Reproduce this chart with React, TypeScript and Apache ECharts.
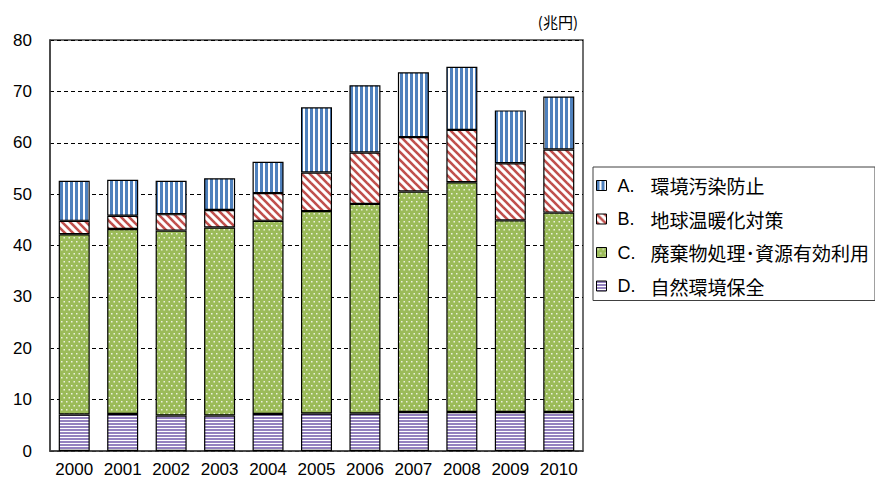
import React, { useEffect, useRef } from 'react';
import * as echarts from 'echarts';

// Fiscal years on the category axis
const years = ['2000', '2001', '2002', '2003', '2004', '2005', '2006', '2007', '2008', '2009', '2010'];

// Legend codes and sector names (A–D)
const codes = ['A.', 'B.', 'C.', 'D.'];
const sectorNames = ['環境汚染防止', '地球温暖化対策', '廃棄物処理･資源有効利用', '自然環境保全'];

// Market size per sector, trillion yen
const pollutionPrevention = [7.8, 7.0, 6.5, 6.2, 6.1, 12.7, 13.1, 12.6, 12.3, 10.3, 10.3];
const climateMeasures = [2.6, 2.6, 3.2, 3.4, 5.4, 7.5, 10.0, 10.6, 10.2, 11.1, 12.3];
const wasteAndRecycling = [35.1, 36.0, 36.0, 36.6, 37.6, 39.4, 40.8, 42.9, 44.7, 37.3, 38.8];
const natureConservation = [7.1, 7.2, 6.9, 6.9, 7.2, 7.3, 7.3, 7.6, 7.6, 7.6, 7.6];

// Value axis
const yMin = 0;
const yMax = 80;
const yStep = 10;
const unitLabel = '(兆円)';

type Draw = (ctx: CanvasRenderingContext2D, w: number, h: number) => void;

function makeTile(w: number, h: number, draw: Draw) {
  const c = document.createElement('canvas');
  c.width = w;
  c.height = h;
  const ctx = c.getContext('2d')!;
  draw(ctx, w, h);
  return { image: c, repeat: 'repeat' as const };
}

function buildPatterns() {
  // blue vertical stripes
  const blue = makeTile(5, 5, (ctx, w, h) => {
    ctx.fillStyle = '#ffffff';
    ctx.fillRect(0, 0, w, h);
    ctx.fillStyle = '#4f81bd';
    ctx.fillRect(0, 0, 3, h);
  });
  // red diagonal stripes "\"
  const red = makeTile(8, 8, (ctx, w, h) => {
    ctx.fillStyle = '#ffffff';
    ctx.fillRect(0, 0, w, h);
    ctx.strokeStyle = '#c0504d';
    ctx.lineWidth = 2.6;
    for (let k = -2; k <= 2; k++) {
      ctx.beginPath();
      ctx.moveTo(-8, -8 + k * 8);
      ctx.lineTo(16, 16 + k * 8);
      ctx.stroke();
    }
  });
  // green with staggered white dots
  const green = makeTile(5, 8, (ctx, w, h) => {
    ctx.fillStyle = '#9bbb59';
    ctx.fillRect(0, 0, w, h);
    ctx.fillStyle = 'rgba(255,255,255,0.8)';
    ctx.fillRect(1, 1, 1.5, 1.5);
    ctx.fillRect(3.5, 5, 1.5, 1.5);
  });
  // lavender horizontal lines
  const purple = makeTile(4, 3, (ctx, w, h) => {
    ctx.fillStyle = '#ffffff';
    ctx.fillRect(0, 0, w, h);
    ctx.fillStyle = '#9482bf';
    ctx.fillRect(0, 0, w, 2);
  });
  return { blue, red, green, purple };
}

export default function App() {
  const ref = useRef<HTMLDivElement>(null);

  useEffect(() => {
    if (!ref.current) return;
    const chart = echarts.init(ref.current, undefined, { renderer: 'svg' });
    const p = buildPatterns();
    const names = codes.map((c, i) => `${c} ${sectorNames[i]}`);

    const barBase = {
      type: 'bar' as const,
      stack: 'total',
      barWidth: '64%',
    };
    const border = { borderColor: '#000000', borderWidth: 1.2 };

    chart.setOption({
      animation: false,
      grid: {
        left: 50,
        right: 292,
        top: 40,
        bottom: 29,
        show: true,
        borderColor: '#404040',
        borderWidth: 1.5,
      },
      graphic: [
        {
          type: 'text',
          x: 578,
          y: 21,
          style: {
            text: unitLabel,
            fontFamily: 'Noto Sans CJK JP',
            fontSize: 15,
            fill: '#000',
            align: 'right',
            verticalAlign: 'middle',
          },
        },
      ],
      legend: {
        orient: 'vertical',
        left: 593,
        top: 167,
        padding: [9, 6, 5, 3],
        itemGap: 14.5,
        itemWidth: 10,
        itemHeight: 10,
        icon: 'rect',
        borderColor: '#404040',
        borderWidth: 1,
        data: names,
        itemStyle: { borderColor: '#000', borderWidth: 1 },
        formatter: (name: string) => {
          const i = name.indexOf(' ');
          return `{l|${name.slice(0, i)}}{t|${name.slice(i + 1)}}`;
        },
        textStyle: {
          color: '#000',
          rich: {
            l: {
              width: 33,
              padding: [0, 0, 0, 6],
              fontFamily: 'Liberation Sans',
              fontSize: 18,
              color: '#000',
            },
            t: {
              fontFamily: 'Noto Sans CJK JP',
              fontSize: 19,
              color: '#000',
            },
          },
        },
      },
      xAxis: {
        type: 'category',
        data: years,
        axisTick: { show: false },
        axisLine: { lineStyle: { color: '#404040', width: 1.5 } },
        axisLabel: {
          color: '#000',
          fontFamily: 'Liberation Sans',
          fontSize: 17,
          margin: 10,
          interval: 0,
        },
      },
      yAxis: {
        type: 'value',
        min: yMin,
        max: yMax,
        interval: yStep,
        axisTick: { show: false },
        axisLine: { show: true, lineStyle: { color: '#404040', width: 1.5 } },
        axisLabel: {
          color: '#000',
          fontFamily: 'Liberation Sans',
          fontSize: 17,
          margin: 18,
        },
        splitLine: {
          show: true,
          lineStyle: { color: '#000', type: [4, 3], width: 1 },
        },
      },
      series: [
        { ...barBase, name: names[3], data: natureConservation, itemStyle: { color: p.purple, ...border } },
        { ...barBase, name: names[2], data: wasteAndRecycling, itemStyle: { color: p.green, ...border } },
        { ...barBase, name: names[1], data: climateMeasures, itemStyle: { color: p.red, ...border } },
        { ...barBase, name: names[0], data: pollutionPrevention, itemStyle: { color: p.blue, ...border } },
      ],
    });

    return () => chart.dispose();
  }, []);

  return (
    <div
      ref={ref}
      style={{ position: 'fixed', left: 0, top: 0, width: 875, height: 480, background: '#fff' }}
    />
  );
}
